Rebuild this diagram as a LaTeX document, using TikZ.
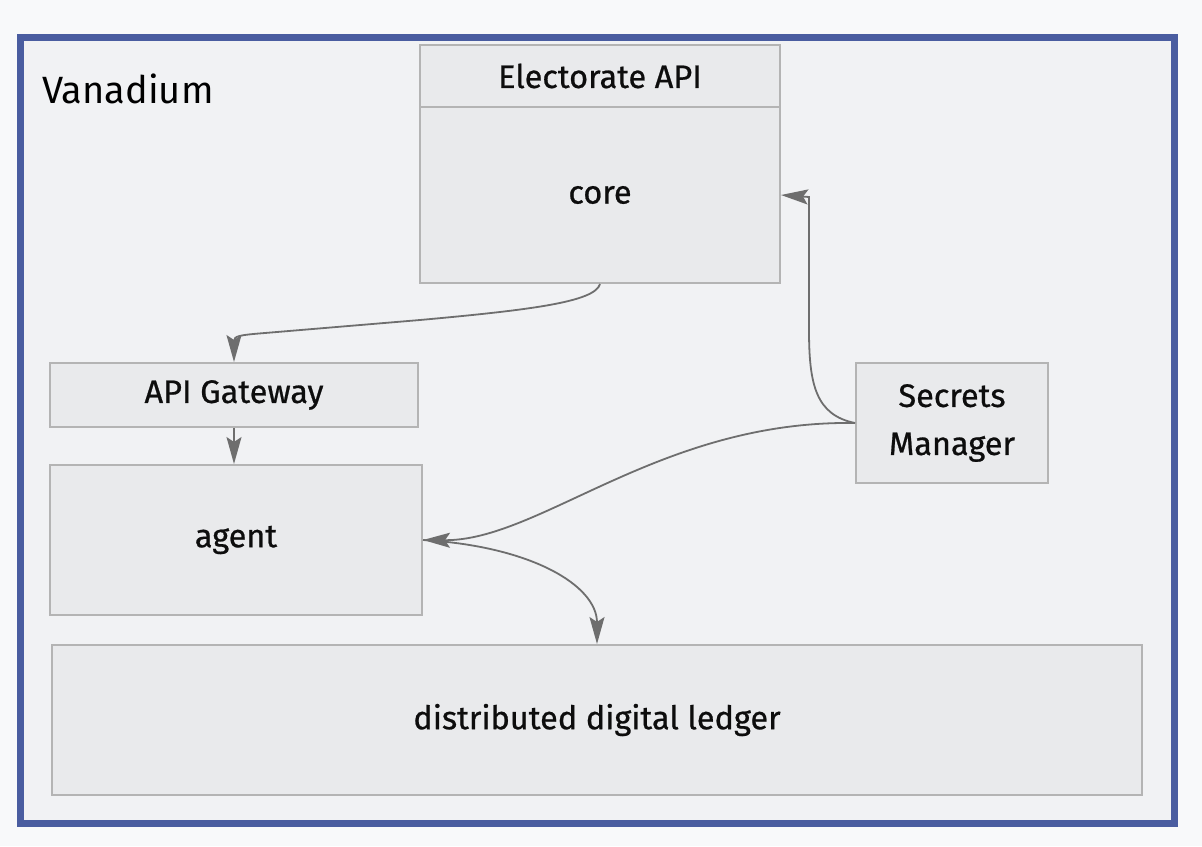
\documentclass[tikz,border=0pt]{standalone}
\usepackage{fontspec}
\setmainfont{Fira Sans}
\newfontfamily\nodefont{Fira Sans}[FakeBold=0.7]
\usetikzlibrary{arrows.meta}
\definecolor{pagebg}{HTML}{F8F9FA}
\definecolor{framebg}{HTML}{F1F2F4}
\definecolor{frameblue}{HTML}{4A5DA0}
\definecolor{boxfill}{HTML}{E9EAEC}
\definecolor{boxline}{HTML}{B4B4B4}
\definecolor{linkc}{HTML}{6E6E6E}
\begin{document}
\begin{tikzpicture}[x=1pt,y=-1pt,
  box/.style={draw=boxline,fill=boxfill,line width=2pt,inner sep=0pt,
    font=\nodefont\fontsize{32.5}{48}\selectfont,text=black!95,align=center},
  link/.style={draw=linkc,line width=1.8pt,
    -{Stealth[length=27pt,width=15pt,inset=5pt,fill=linkc]}}]
\fill[pagebg] (0,0) rectangle (1202,846);
\useasboundingbox (0,0) rectangle (1202,846);
\draw[frameblue,line width=7pt,fill=framebg] (20.5,37.5) rectangle (1174.5,823.5);
\node[anchor=base west,inner sep=0pt,font=\fontsize{38}{44}\selectfont] (title) at (42,103) {Vanadium};
\node[box,minimum width=360pt,minimum height=62pt] (hdr) at (600,76) {Electorate API};
\node[box,minimum width=360pt,minimum height=176pt] (core) at (600,195) {core};
\node[box,minimum width=368pt,minimum height=64pt] (gw) at (234,395) {API Gateway};
\node[box,minimum width=372pt,minimum height=150pt] (agent) at (236,540) {agent};
\node[box,minimum width=192pt,minimum height=120pt] (sec) at (952,423) {Secrets\\Manager};
\node[box,minimum width=1090pt,minimum height=150pt] (ledger) at (597,720) {distributed digital ledger};
\draw[link] (core.south) .. controls (595,302) and (530,310) .. (420,320) -- (265,333) .. controls (240,335) and (234,336) .. (gw.north);
\draw[link] (gw.south) -- (gw.south |- agent.north);
\draw[link] (sec.west) .. controls (816,415) and (809,385) .. (809,330) -- (809,197) -- (core.east);
\draw[link] (sec.west) .. controls (660,420) and (540,541) .. (agent.east);
\draw[link] (agent.east) .. controls (530,546) and (597,585) .. (ledger.north);
\end{tikzpicture}
\end{document}
